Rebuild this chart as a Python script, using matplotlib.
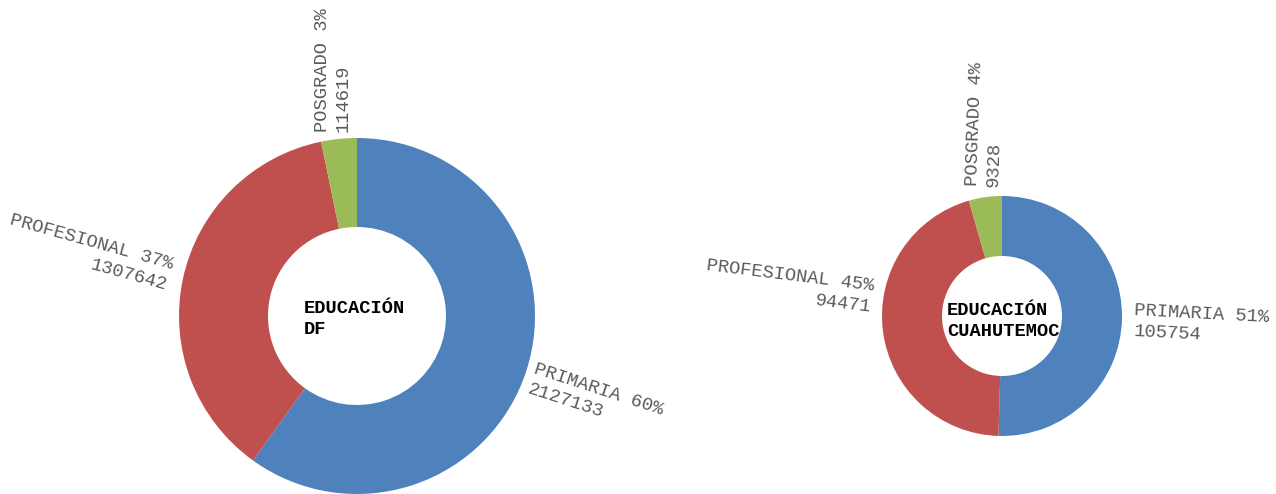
import matplotlib
matplotlib.use("Agg")
import matplotlib.pyplot as plt

# Niveles educativos (mismo orden en ambas gráficas)
niveles = ["PRIMARIA", "PROFESIONAL", "POSGRADO"]
colores = ["#4F81BD", "#C0504D", "#9BBB59"]

# Distrito Federal
df_valores = [2127133, 1307642, 114619]
df_pct = [60, 37, 3]

# Delegación Cuauhtémoc
cuau_valores = [105754, 94471, 9328]
cuau_pct = [51, 45, 4]

W, H = 1276, 494
fig = plt.figure(figsize=(W / 100, H / 100), dpi=100)
ax = fig.add_axes([0, 0, 1, 1])

GRIS = "#5a5a5a"
MONO = "Liberation Mono"


def dona(valores, pct, centro, radio, titulo, etiquetas):
    ax.pie(valores, colors=colores, startangle=90, counterclock=False,
           center=centro, radius=radio,
           wedgeprops=dict(width=radio * 0.5, linewidth=0))
    # etiquetas: (x, y, rotacion, ha) para cada nivel
    for nombre, v, p, (x, y, rot, ha) in zip(niveles, valores, pct, etiquetas):
        ax.text(x, H - y, f"{nombre} {p}%\n{v}", rotation=rot,
                rotation_mode="anchor", ha=ha, va="top", multialignment=ha,
                family=MONO, fontsize=13.5, color=GRIS, linespacing=1.3)
    tx, ty = titulo[1]
    ax.text(tx, H - ty, titulo[0], ha="left", va="center", family=MONO,
            fontweight="bold", fontsize=13.5, color="black", linespacing=1.3)


dona(df_valores, df_pct, (357, H - 316), 178, ("EDUCACIÓN\nDF", (304, 319)),
     [(537, 361, -18, "left"),
      (175, 257, -15.5, "right"),
      (314, 132, 90, "left")])

dona(cuau_valores, cuau_pct, (1002, H - 316), 120,
     ("EDUCACIÓN\nCUAHUTEMOC", (947, 321)),
     [(1135, 302, -3, "left"),
      (875, 278, -7, "right"),
      (964, 186, 88, "left")])

# pie() fija sus propios límites; se reponen en píxeles de la figura
ax.set_xlim(0, W)
ax.set_ylim(0, H)
ax.set_aspect("equal")
ax.axis("off")

fig.savefig("out.png", dpi=100)
